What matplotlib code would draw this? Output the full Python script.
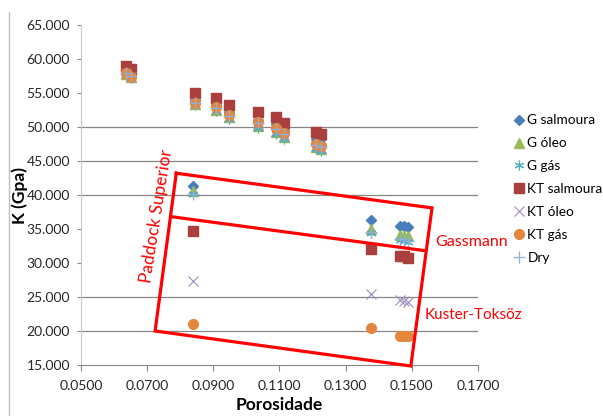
import matplotlib
matplotlib.use("Agg")
import matplotlib.pyplot as plt
from matplotlib.lines import Line2D

# porosidade (upper group then Paddock Superior group)
porosidade = [0.0635, 0.0650, 0.0845, 0.0908, 0.0946, 0.1035, 0.1090, 0.1115, 0.1210, 0.1225,
              0.0838, 0.1378, 0.1465, 0.1475, 0.1487]

g_salmoura = [58.2, 57.8, 54.0, 53.3, 52.2, 51.0, 50.5, 49.6, 48.3, 48.2,
              41.3, 36.3, 35.5, 35.4, 35.3]
g_oleo = [57.8, 57.3, 53.4, 52.5, 51.4, 50.2, 49.2, 48.6, 47.0, 46.8,
          40.6, 35.0, 34.1, 34.0, 33.9]
g_gas = [57.7, 57.2, 53.2, 52.3, 51.2, 49.9, 48.9, 48.3, 46.7, 46.5,
         40.1, 34.4, 33.4, 33.3, 33.1]
kt_salmoura = [59.0, 58.5, 55.0, 54.3, 53.3, 52.2, 51.5, 50.6, 49.2, 49.0,
               34.7, 32.0, 31.1, 31.0, 30.7]
kt_oleo = [57.9, 57.4, 53.5, 52.6, 51.5, 50.4, 49.4, 48.8, 47.2, 46.9,
           27.3, 25.5, 24.6, 24.4, 24.2]
kt_gas = [58.0, 57.4, 53.6, 52.9, 51.7, 50.7, 49.8, 49.1, 47.5, 47.2,
          21.0, 20.4, 19.3, 19.2, 19.2]
dry = [58.0, 57.5, 53.6, 52.8, 51.6, 50.6, 49.7, 48.9, 47.4, 47.1,
       40.2, 34.6, 33.6, 33.5, 33.3]

# red annotation shapes (data coords)
caixa_externa = [(0.0788, 43.2), (0.1561, 38.1), (0.1497, 14.85), (0.0724, 20.0), (0.0788, 43.2)]
linha_divisao = [(0.0775, 36.8), (0.1542, 31.8)]

grid_y = [20, 25, 40, 45, 50]

plt.rcParams['font.family'] = ['Lato', 'DejaVu Sans']

fig = plt.figure(figsize=(6.03, 4.16), dpi=100)
ax = fig.add_axes([81/603, 1-365/416, 397/603, 340/416])

for gy in grid_y:
    ax.axhline(gy, color='#868686', lw=0.9, zorder=0)

series = [
    ('G salmoura', g_salmoura, dict(marker='D', color='#4A7EBB', ms=5.5, ls='none')),
    ('G óleo', g_oleo, dict(marker='^', color='#98B954', ms=6.5, ls='none')),
    ('G gás', g_gas, dict(marker=(6, 2, 0), color='#4BACC6', ms=7, mew=0.8, ls='none')),
    ('KT salmoura', kt_salmoura, dict(marker='s', color='#A9403D', ms=6.8, ls='none')),
    ('KT óleo', kt_oleo, dict(marker='x', color='#9E8BC0', ms=6.5, mew=0.8, ls='none')),
    ('KT gás', kt_gas, dict(marker='o', color='#E4873C', ms=7, ls='none')),
    ('Dry', dry, dict(marker='+', color='#8FB0DC', ms=8, mew=0.9, ls='none')),
]
for i, (nome, ys, kw) in enumerate(series):
    ax.plot(porosidade, ys, label=nome, zorder=3+i, **kw)

xs, ys = zip(*caixa_externa)
ax.plot(xs, ys, color='#FF0000', lw=2.3, clip_on=False, zorder=10, solid_joinstyle='miter')
xs, ys = zip(*linha_divisao)
ax.plot(xs, ys, color='#FF0000', lw=2.3, clip_on=False, zorder=10)

ax.text(0.0728, 36.9, 'Paddock Superior', color='#FF0000', fontsize=12.5,
        rotation=81, ha='center', va='center')
ax.text(0.1681, 33.1, 'Gassmann', color='#FF0000', fontsize=11.5, ha='center', va='center')
ax.text(0.1685, 22.35, 'Kuster-Toksöz', color='#FF0000', fontsize=11, ha='center', va='center')

ax.set_xlim(0.05, 0.17)
ax.set_ylim(15, 65)
ax.set_xticks([0.05, 0.07, 0.09, 0.11, 0.13, 0.15, 0.17])
ax.set_xticklabels(['%.4f' % v for v in ax.get_xticks()])
ax.set_yticks(range(15, 66, 5))
ax.set_yticklabels(['%.3f' % v for v in ax.get_yticks()])
ax.tick_params(axis='x', length=4, color='#868686', labelsize=10, pad=7, labelcolor='#262626')
ax.tick_params(axis='y', length=3, color='#868686', labelsize=10, pad=5, labelcolor='#262626')
for s in ['top', 'right']:
    ax.spines[s].set_visible(False)
ax.spines['left'].set_color('#C8C8C8')
ax.spines['bottom'].set_color('#868686')

fig.text(20/603, 1-195/416, 'K (Gpa)', rotation=90, fontsize=12.5, fontweight='bold',
         ha='center', va='center')
fig.text(279/603, 1-405/416, 'Porosidade', fontsize=12.5, fontweight='bold',
         ha='center', va='center')

fig.add_artist(Line2D([9/603, 9/603], [0, 1-12/416], color='#BFBFBF', lw=1))

leg = ax.legend(loc='upper left', bbox_to_anchor=(509/603, 1-109/416),
                bbox_transform=fig.transFigure, frameon=False, fontsize=9.8,
                handlelength=0.7, handletextpad=0.25, labelspacing=0.8, borderaxespad=0)

fig.savefig('out.png', dpi=100)
